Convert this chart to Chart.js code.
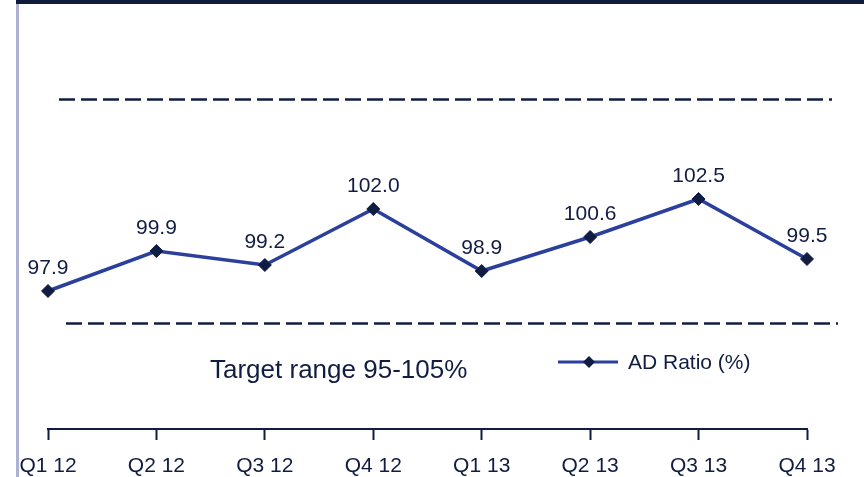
<!DOCTYPE html>
<html>
<head>
<meta charset="utf-8">
<script src="https://cdn.jsdelivr.net/npm/chart.js@4.4.0/dist/chart.umd.min.js"></script>
<style>
    html, body { margin: 0; padding: 0; background: #fff; }
    canvas { display: block; }
</style>
</head>
<body>
<canvas id="chart" width="864" height="477"></canvas>
<script>
// Data
const quarters = ['Q1 12', 'Q2 12', 'Q3 12', 'Q4 12', 'Q1 13', 'Q2 13', 'Q3 13', 'Q4 13'];
const adRatio = [97.9, 99.9, 99.2, 102.0, 98.9, 100.6, 102.5, 99.5];
const bandValues = [107.5, 96.3]; // dashed target band lines
const seriesName = 'AD Ratio (%)';
const noteText = 'Target range 95-105%';

const navy = '#111c42';
const lineBlue = '#2b3f9d';
const fontFamily = '"Liberation Sans", Arial, sans-serif';

// Background, top bar and left rule
const framePlugin = {
    id: 'frame',
    beforeDraw(chart) {
        const ctx = chart.ctx;
        ctx.save();
        ctx.fillStyle = '#ffffff';
        ctx.fillRect(0, 0, chart.width, chart.height);
        ctx.fillStyle = '#0f1b3d';
        ctx.fillRect(16, 0, chart.width - 16, 4);
        ctx.fillStyle = '#aeb1d4';
        ctx.fillRect(16, 4, 3, chart.height - 4);
        ctx.restore();
    }
};

// Dashed band lines
const bandPlugin = {
    id: 'bands',
    beforeDatasetsDraw(chart) {
        const ctx = chart.ctx;
        const y = chart.scales.y;
        const spans = [[59, 832], [66, 838]];
        ctx.save();
        ctx.strokeStyle = navy;
        ctx.lineWidth = 2.5;
        ctx.setLineDash([16, 6]);
        bandValues.forEach((v, i) => {
            const py = Math.round(y.getPixelForValue(v)) + 0.5;
            ctx.beginPath();
            ctx.moveTo(spans[i][0], py);
            ctx.lineTo(spans[i][1], py);
            ctx.stroke();
        });
        ctx.restore();
    }
};

// Value labels, note and legend
const labelPlugin = {
    id: 'labels',
    afterDatasetsDraw(chart) {
        const ctx = chart.ctx;
        const meta = chart.getDatasetMeta(0);
        ctx.save();
        ctx.fillStyle = navy;
        ctx.font = '21px ' + fontFamily;
        ctx.textAlign = 'center';
        ctx.textBaseline = 'alphabetic';
        meta.data.forEach((pt, i) => {
            ctx.fillText(adRatio[i].toFixed(1), pt.x, pt.y - 17);
        });

        ctx.font = '26px ' + fontFamily;
        ctx.textAlign = 'left';
        ctx.fillText(noteText, 210, 378);

        // legend
        ctx.strokeStyle = lineBlue;
        ctx.lineWidth = 3;
        ctx.beginPath();
        ctx.moveTo(558, 362);
        ctx.lineTo(618, 362);
        ctx.stroke();
        ctx.fillStyle = navy;
        ctx.beginPath();
        ctx.moveTo(589 - 6, 362);
        ctx.lineTo(589, 362 - 6);
        ctx.lineTo(589 + 6, 362);
        ctx.lineTo(589, 362 + 6);
        ctx.closePath();
        ctx.fill();
        ctx.font = '21px ' + fontFamily;
        ctx.textBaseline = 'middle';
        ctx.fillText(seriesName, 628, 363);
        ctx.restore();
    }
};

const ctx = document.getElementById('chart').getContext('2d');
const chart = new Chart(ctx, {
    type: 'line',
    data: {
        labels: quarters,
        datasets: [{
            label: seriesName,
            data: adRatio,
            borderColor: lineBlue,
            borderWidth: 3.5,
            tension: 0,
            pointStyle: 'rectRot',
            pointRadius: 6.5,
            pointBackgroundColor: navy,
            pointBorderColor: navy,
            pointBorderWidth: 1
        }]
    },
    options: {
        responsive: false,
        animation: false,
        devicePixelRatio: 1,
        layout: {
            padding: { top: 9, left: 48, right: 57, bottom: 0 }
        },
        plugins: {
            legend: { display: false },
            tooltip: { enabled: false }
        },
        scales: {
            x: {
                offset: false,
                grid: {
                    display: true,
                    drawOnChartArea: false,
                    drawTicks: true,
                    tickLength: 11,
                    tickWidth: 2,
                    tickColor: navy
                },
                border: { display: true, color: navy, width: 2 },
                ticks: {
                    color: navy,
                    font: { family: fontFamily, size: 21 },
                    padding: 14,
                    maxRotation: 0,
                    autoSkip: false
                },
                afterFit: s => { s.height = 48; }
            },
            y: {
                display: false,
                min: 91,
                max: 112
            }
        }
    },
    plugins: [framePlugin, bandPlugin, labelPlugin]
});
</script>
</body>
</html>
